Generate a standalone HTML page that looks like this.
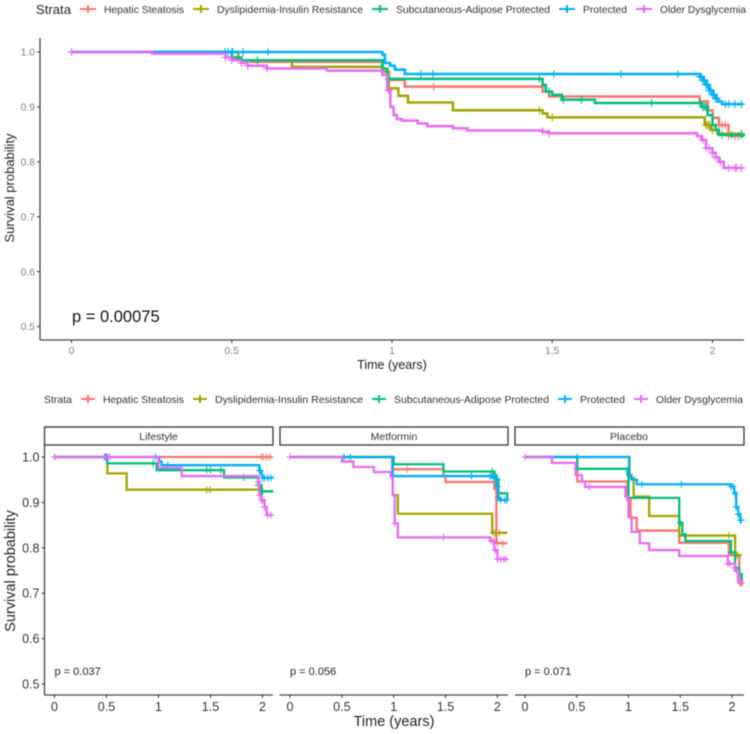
<!DOCTYPE html>
<html lang="en">
<head>
<meta charset="utf-8">
<title>Survival curves by strata</title>
<style>
html,body{margin:0;padding:0;background:#fff}
svg{display:block;filter:blur(.45px)}
text{font-family:"Liberation Sans",sans-serif}
</style>
</head>
<body>
<svg id="chart" width="750" height="734" viewBox="0 0 750 734" xmlns="http://www.w3.org/2000/svg">
<rect width="750" height="734" fill="#fff"/>

<g font-size="10.5" fill="#333">
<text x="36" y="14" font-size="12.5" fill="#222" textLength="35" lengthAdjust="spacingAndGlyphs">Strata</text>
<g stroke-width="2">
<path d="M80 9H96M88 5V13" stroke="#F8766D" fill="none"/>
<path d="M193 9H209M201 5V13" stroke="#A3A500" fill="none"/>
<path d="M372 9H388M380 5V13" stroke="#00BF7D" fill="none"/>
<path d="M559 9H575M567 5V13" stroke="#00B0F6" fill="none"/>
<path d="M636 9H652M644 5V13" stroke="#E76BF3" fill="none"/>
</g>
<text x="104" y="13" textLength="80" lengthAdjust="spacingAndGlyphs">Hepatic Steatosis</text>
<text x="217" y="13" textLength="146" lengthAdjust="spacingAndGlyphs">Dyslipidemia-Insulin Resistance</text>
<text x="396" y="13" textLength="154" lengthAdjust="spacingAndGlyphs">Subcutaneous-Adipose Protected</text>
<text x="583" y="13" textLength="44" lengthAdjust="spacingAndGlyphs">Protected</text>
<text x="660" y="13" textLength="86" lengthAdjust="spacingAndGlyphs">Older Dysglycemia</text>
</g>

<g font-size="10.5" fill="#333">
<text x="44" y="403" textLength="28" lengthAdjust="spacingAndGlyphs">Strata</text>
<g stroke-width="2">
<path d="M81 399H95M88 395V403" stroke="#F8766D" fill="none"/>
<path d="M193 399H207M200 395V403" stroke="#A3A500" fill="none"/>
<path d="M372 399H386M379 395V403" stroke="#00BF7D" fill="none"/>
<path d="M558 399H572M565 395V403" stroke="#00B0F6" fill="none"/>
<path d="M634 399H648M641 395V403" stroke="#E76BF3" fill="none"/>
</g>
<text x="103" y="403" textLength="81" lengthAdjust="spacingAndGlyphs">Hepatic Steatosis</text>
<text x="215" y="403" textLength="148" lengthAdjust="spacingAndGlyphs">Dyslipidemia-Insulin Resistance</text>
<text x="394" y="403" textLength="155" lengthAdjust="spacingAndGlyphs">Subcutaneous-Adipose Protected</text>
<text x="580" y="403" textLength="45" lengthAdjust="spacingAndGlyphs">Protected</text>
<text x="656" y="403" textLength="87" lengthAdjust="spacingAndGlyphs">Older Dysglycemia</text>
</g>

<text transform="translate(14,188) rotate(-90)" text-anchor="middle" font-size="13" fill="#222">Survival probability</text>
<text x="392" y="369" text-anchor="middle" font-size="12.5" fill="#222">Time (years)</text>
<text x="72" y="322" font-size="16.5" fill="#111">p = 0.00075</text>

<text transform="translate(15,571) rotate(-90)" text-anchor="middle" font-size="14.5" fill="#222">Survival probability</text>
<text x="394" y="726" text-anchor="middle" font-size="14.5" fill="#222">Time (years)</text>

<g>
<rect x="44.5" y="427" width="228.5" height="18" fill="#fff" stroke="#333" stroke-width="1.3"/>
<text x="158.5" y="440" text-anchor="middle" font-size="10.5" fill="#333">Lifestyle</text>
</g>
<g>
<rect x="280" y="427" width="228" height="18" fill="#fff" stroke="#333" stroke-width="1.3"/>
<text x="394" y="440" text-anchor="middle" font-size="10.5" fill="#333">Metformin</text>
</g>
<g>
<rect x="515" y="427" width="229" height="18" fill="#fff" stroke="#333" stroke-width="1.3"/>
<text x="629" y="440" text-anchor="middle" font-size="10.5" fill="#333">Placebo</text>
</g>

<text x="54.5" y="675" font-size="11" fill="#222">p = 0.037</text>
<text x="290" y="675" font-size="11" fill="#222">p = 0.056</text>
<text x="525" y="675" font-size="11" fill="#222">p = 0.071</text>

<g id="plots"></g>
</svg>

<script>
// Tick labels
const xTickValues = [0, 0.5, 1, 1.5, 2];
const xTickLabels = ["0", "0.5", "1", "1.5", "2"];
const yTickValues = [1.0, 0.9, 0.8, 0.7, 0.6, 0.5];
const yTickLabels = ["1.0", "0.9", "0.8", "0.7", "0.6", "0.5"];
const seriesKeys = ["hepatic", "dyslipidemia", "subcutaneous", "protected", "older"];
const seriesColors = ["#F8766D", "#A3A500", "#00BF7D", "#00B0F6", "#E76BF3"];

// Overall panel
const overallHepaticT = [0,0.5,0.53,0.56,0.97,0.99,1.04,1.47,1.49,1.96,1.985,2.0,2.02,2.05,2.095];
const overallHepaticS = [1,0.99,0.985,0.982,0.965,0.949,0.937,0.928,0.919,0.91,0.894,0.88,0.867,0.847,0.847];
const overallHepaticC = [1.13,2.02,2.03,2.04,2.05,2.07,2.08];
const overallDyslipT = [0,0.52,0.55,0.688,0.97,0.99,1.02,1.05,1.19,1.47,1.485,1.976,1.995,2.015,2.095];
const overallDyslipS = [1,0.985,0.985,0.973,0.964,0.934,0.92,0.908,0.894,0.888,0.881,0.867,0.858,0.851,0.851];
const overallDyslipC = [1.46,1.5,1.98,1.985,1.99,2.0,2.09];
const overallSubqT = [0,0.5,0.53,0.97,0.985,1.47,1.48,1.5,1.53,1.633,1.967,1.985,2.0,2.01,2.02,2.095];
const overallSubqS = [1,0.99,0.985,0.97,0.951,0.94,0.928,0.922,0.913,0.907,0.9,0.885,0.867,0.858,0.849,0.845];
const overallSubqC = [0.58,0.99,1.46,1.49,1.535,1.591,1.81,1.96,1.97,1.975,1.98,2.03,2.06,2.09];
const overallProtT = [0,0.97,0.978,0.994,1.009,1.04,1.96,1.97,1.98,1.99,2.0,2.01,2.017,2.03,2.095];
const overallProtS = [1,0.995,0.98,0.975,0.968,0.96,0.955,0.948,0.94,0.93,0.922,0.915,0.9095,0.905,0.905];
const overallProtC = [0.479,0.488,0.5,0.503,0.535,0.613,1.09,1.128,1.505,1.714,1.892,1.96,1.965,1.97,1.975,1.98,1.985,1.99,1.995,2.0,2.005,2.01,2.015,2.04,2.05,2.07,2.09];
const overallOlderT = [0,0.252,0.48,0.5,0.53,0.55,0.61,0.797,0.97,0.985,0.995,1.005,1.015,1.03,1.08,1.11,1.19,1.235,1.47,1.49,1.952,1.965,1.98,2.0,2.01,2.02,2.035,2.095];
const overallOlderS = [1,0.997,0.99,0.985,0.98,0.975,0.97,0.966,0.958,0.93,0.9,0.885,0.878,0.875,0.87,0.865,0.861,0.857,0.855,0.852,0.847,0.84,0.825,0.816,0.808,0.8,0.789,0.789];
const overallOlderC = [0,0.48,0.5,0.53,0.55,0.61,0.99,1.47,1.49,1.97,1.98,1.99,2.0,2.01,2.025,2.05,2.07,2.075,2.09];

// Lifestyle panel
const lifestyleHepaticT = [0,2.095];
const lifestyleHepaticS = [1,1];
const lifestyleHepaticC = [1.99,2.01,2.04,2.07];
const lifestyleDyslipT = [0,0.508,0.694,1.98,2.095];
const lifestyleDyslipS = [1,0.964,0.928,0.925,0.925];
const lifestyleDyslipC = [1.463,1.495,1.99,2.0];
const lifestyleSubqT = [0,0.508,0.983,1.63,1.96,1.99,2.095];
const lifestyleSubqS = [1,0.986,0.971,0.955,0.938,0.924,0.922];
const lifestyleSubqC = [0.95,1.463,1.5,1.6,1.82,1.96,1.99,2.0];
const lifestyleProtT = [0,1.008,1.03,1.97,1.99,2.0,2.095];
const lifestyleProtS = [1,0.99,0.982,0.97,0.96,0.954,0.952];
const lifestyleProtC = [0,0.48,0.5,0.51,0.97,1.09,1.97,1.98,2.0,2.02,2.05,2.08];
const lifestyleOlderT = [0,1.0,1.223,1.96,1.97,1.99,2.02,2.04,2.095];
const lifestyleOlderS = [1,0.976,0.958,0.945,0.916,0.905,0.89,0.872,0.872];
const lifestyleOlderC = [0,0.49,0.51,0.53,1.96,1.97,1.99,2.0,2.02,2.05,2.08];

// Metformin panel
const metforminHepaticT = [0,0.985,1.48,1.5,1.97,1.99,2.095];
const metforminHepaticS = [1,0.973,0.958,0.945,0.93,0.81,0.81];
const metforminHepaticC = [1.13,2.0,2.05];
const metforminDyslipT = [0,0.99,1.04,1.95,2.095];
const metforminDyslipS = [1,0.916,0.875,0.833,0.833];
const metforminDyslipC = [1.96,1.98,2.02];
const metforminSubqT = [0,1.0,1.48,1.97,1.99,2.01,2.095];
const metforminSubqS = [1,0.984,0.968,0.96,0.95,0.92,0.905];
const metforminSubqC = [1.95,1.97,2.0];
const metforminProtT = [0,0.99,1.02,1.95,1.99,2.01,2.03,2.095];
const metforminProtS = [1,0.958,0.958,0.955,0.935,0.91,0.905,0.905];
const metforminProtC = [0.52,0.58,0.99,1.75,1.93,1.96,1.98,2.0,2.01,2.03,2.07,2.09];
const metforminOlderT = [0,0.5,0.61,0.81,0.97,0.99,1.01,1.04,1.93,1.97,2.0,2.095];
const metforminOlderS = [1,0.99,0.978,0.967,0.957,0.916,0.854,0.823,0.815,0.795,0.775,0.775];
const metforminOlderC = [0,1.01,1.48,1.94,1.96,1.98,2.0,2.03,2.06,2.08];

// Placebo panel
const placeboHepaticT = [0,0.505,0.99,1.02,1.08,1.49,1.97,2.07,2.095];
const placeboHepaticS = [1,0.946,0.905,0.866,0.838,0.811,0.784,0.722,0.722];
const placeboHepaticC = [2.08,2.09];
const placeboDyslipT = [0,1.01,1.05,1.08,1.2,1.49,2.03,2.095];
const placeboDyslipS = [1,0.954,0.913,0.913,0.87,0.827,0.784,0.784];
const placeboDyslipC = [1.97,2.05];
const placeboSubqT = [0,0.505,0.99,1.0,1.49,1.52,1.55,1.99,2.03,2.07,2.095];
const placeboSubqS = [1,0.974,0.96,0.91,0.855,0.83,0.815,0.79,0.756,0.742,0.727];
const placeboSubqC = [0.505,1.5,1.99,2.03];
const placeboProtT = [0,1.005,1.03,1.08,1.11,1.99,2.02,2.04,2.06,2.08,2.095];
const placeboProtS = [1,0.96,0.95,0.94,0.94,0.935,0.92,0.89,0.874,0.861,0.861];
const placeboProtC = [0.505,1.13,1.51,1.99,2.01,2.03,2.04,2.06,2.08,2.09];
const placeboOlderT = [0,0.26,0.49,0.55,0.58,0.97,1.0,1.03,1.11,1.2,1.49,1.96,2.03,2.06,2.095];
const placeboOlderS = [1,0.987,0.96,0.946,0.934,0.913,0.868,0.835,0.81,0.795,0.782,0.765,0.75,0.727,0.717];
const placeboOlderC = [0,0.62,1.96,1.98,2.04,2.08];

const NS = "http://www.w3.org/2000/svg";
const root = document.getElementById("plots");

function make(parent, tag, attrs) {
  const el = document.createElementNS(NS, tag);
  for (const k in attrs) el.setAttribute(k, attrs[k]);
  parent.appendChild(el);
  return el;
}

function survAt(times, surv, t) {
  let s = surv[0];
  for (let i = 0; i < times.length; i++) if (times[i] <= t) s = surv[i];
  return s;
}

function drawPanel(name, box, series) {
  const x = t => box.x0 + box.kx * t;
  const y = s => box.y1 + (1 - s) * box.ky;
  const g = make(root, "g", {});
  
  

  series.forEach((sr, i) => {
    let d = "M" + x(sr.t[0]).toFixed(2) + " " + y(sr.s[0]).toFixed(2);
    for (let j = 1; j < sr.t.length; j++) {
      d += "H" + x(sr.t[j]).toFixed(2) + "V" + y(sr.s[j]).toFixed(2);
    }
    const line = make(g, "path", { d: d, fill: "none", stroke: seriesColors[i], "stroke-width": box.lw, "stroke-linejoin": "miter" });
    
    
    sr.c.forEach(ct => {
      const cx = x(ct), cy = y(survAt(sr.t, sr.s, ct));
      const mark = make(g, "path", {
        d: "M" + cx.toFixed(2) + " " + (cy - box.cen) + "V" + (cy + box.cen) + "M" + (cx - box.cen) + " " + cy + "H" + (cx + box.cen),
        fill: "none", stroke: seriesColors[i], "stroke-width": 1.1
      });
      
      
    });
  });

  const xAxis = make(g, "line", { x1: box.left, x2: box.right, y1: box.bottom, y2: box.bottom, stroke: "#444", "stroke-width": 1.3 });
  
  

  xTickValues.forEach((v, i) => {
    const tick = make(g, "line", { x1: x(v), x2: x(v), y1: box.bottom, y2: box.bottom + 3, stroke: "#333", "stroke-width": 1 });
    
    
    const lab = make(g, "text", { x: x(v), y: box.bottom + box.xLabelDy, "text-anchor": "middle", "font-size": box.fs, fill: box.tickColor });
    
    
    lab.textContent = xTickLabels[i];
  });

  if (box.showY) {
    const yAxis = make(g, "line", { x1: box.left, x2: box.left, y1: box.top, y2: box.bottom, stroke: "#444", "stroke-width": 1.3 });
    
    
    yTickValues.forEach((v, i) => {
      const tick = make(g, "line", { x1: box.left - 3, x2: box.left, y1: y(v), y2: y(v), stroke: "#333", "stroke-width": 1 });
      
      
      const lab = make(g, "text", { x: box.left - 5, y: y(v) + box.fs * 0.36, "text-anchor": "end", "font-size": box.fs, fill: box.tickColor });
      
      
      lab.textContent = yTickLabels[i];
    });
  }
}

const topBox = { x0: 71.5, kx: 320.5, y1: 52, ky: 549, left: 40, right: 744, top: 38, bottom: 340, lw: 2.5, cen: 4, fs: 10.3, tickColor: "#7f7f7f", xLabelDy: 14, showY: true };
const facetBase = { y1: 457, ky: 454, top: 445, bottom: 695, lw: 2.3, cen: 3.5, fs: 12.5, tickColor: "#333", xLabelDy: 16 };

drawPanel("overall", topBox, [
  { t: overallHepaticT, s: overallHepaticS, c: overallHepaticC },
  { t: overallDyslipT, s: overallDyslipS, c: overallDyslipC },
  { t: overallSubqT, s: overallSubqS, c: overallSubqC },
  { t: overallProtT, s: overallProtS, c: overallProtC },
  { t: overallOlderT, s: overallOlderS, c: overallOlderC }
]);
drawPanel("lifestyle", Object.assign({}, facetBase, { x0: 54.5, kx: 104, left: 44.5, right: 273, showY: true }), [
  { t: lifestyleHepaticT, s: lifestyleHepaticS, c: lifestyleHepaticC },
  { t: lifestyleDyslipT, s: lifestyleDyslipS, c: lifestyleDyslipC },
  { t: lifestyleSubqT, s: lifestyleSubqS, c: lifestyleSubqC },
  { t: lifestyleProtT, s: lifestyleProtS, c: lifestyleProtC },
  { t: lifestyleOlderT, s: lifestyleOlderS, c: lifestyleOlderC }
]);
drawPanel("metformin", Object.assign({}, facetBase, { x0: 290, kx: 103.7, left: 279.5, right: 508, showY: false }), [
  { t: metforminHepaticT, s: metforminHepaticS, c: metforminHepaticC },
  { t: metforminDyslipT, s: metforminDyslipS, c: metforminDyslipC },
  { t: metforminSubqT, s: metforminSubqS, c: metforminSubqC },
  { t: metforminProtT, s: metforminProtS, c: metforminProtC },
  { t: metforminOlderT, s: metforminOlderS, c: metforminOlderC }
]);
drawPanel("placebo", Object.assign({}, facetBase, { x0: 525, kx: 103.5, left: 515, right: 744, showY: false }), [
  { t: placeboHepaticT, s: placeboHepaticS, c: placeboHepaticC },
  { t: placeboDyslipT, s: placeboDyslipS, c: placeboDyslipC },
  { t: placeboSubqT, s: placeboSubqS, c: placeboSubqC },
  { t: placeboProtT, s: placeboProtS, c: placeboProtC },
  { t: placeboOlderT, s: placeboOlderS, c: placeboOlderC }
]);
</script>
</body>
</html>
